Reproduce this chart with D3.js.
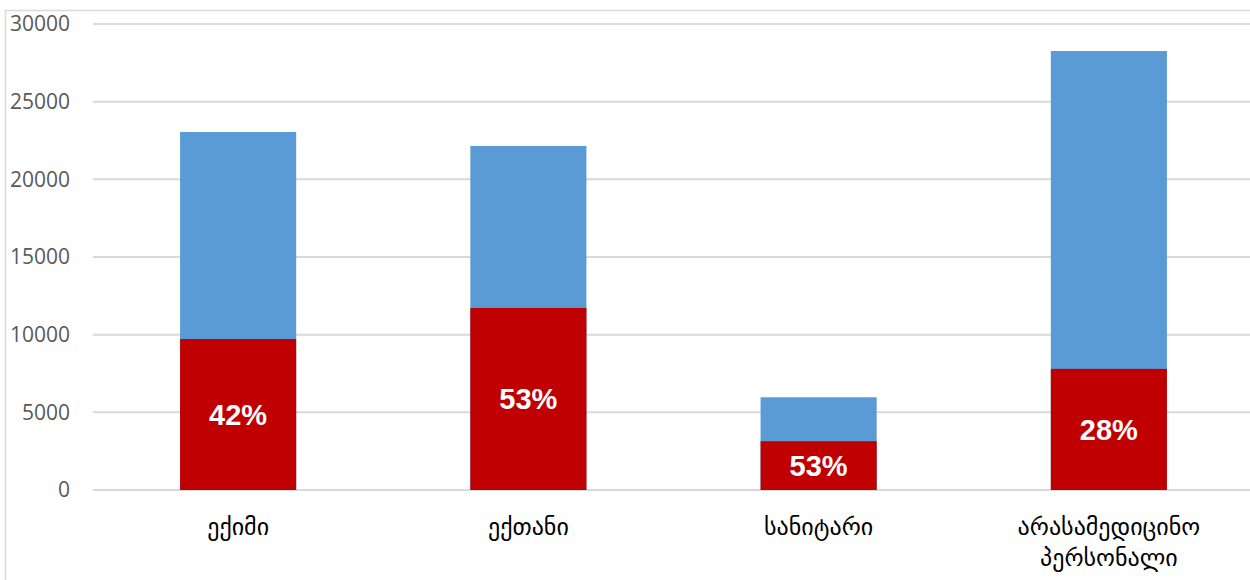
<!DOCTYPE html>
<html>
<head>
<meta charset="utf-8">
<script src="https://cdn.jsdelivr.net/npm/d3@7"></script>
<style>
  body { margin: 0; background: #fff; }
</style>
</head>
<body>
<script>
// chart data
var categories = ["ექიმი", "ექთანი", "სანიტარი", "არასამედიცინო პერსონალი"];
var totals = [23050, 22150, 5970, 28260];
var redValues = [9720, 11720, 3140, 7800];
var percentLabels = ["42%", "53%", "53%", "28%"];
var yTicks = [0, 5000, 10000, 15000, 20000, 25000, 30000];

function init() {
    var w = 1250;
    var h = 580;

    var svg = d3.select("body")
                .append("svg")
                .attr("width", w)
                .attr("height", h);

    // outer frame (only left and top show inside the picture)
    svg.append("rect")
        .attr("x", 5.5)
        .attr("y", 10.5)
        .attr("width", w + 20)
        .attr("height", h + 20)
        .attr("fill", "none")
        .attr("stroke", "#d9d9d9")
        .attr("stroke-width", 1.5);

    var xScale = d3.scaleBand()
                    .domain(categories)
                    .range([93, 1254])
                    .paddingInner(0.6)
                    .paddingOuter(0.3);

    var yScale = d3.scaleLinear()
                    .domain([0, 30000])
                    .range([490, 24]);

    // gridlines
    svg.append("g")
        .selectAll("line")
        .data(yTicks)
        .enter()
        .append("line")
        .attr("x1", 93)
        .attr("x2", w)
        .attr("y1", d => yScale(d))
        .attr("y2", d => yScale(d))
        .attr("stroke", "#d9d9d9")
        .attr("stroke-width", 2);

    // y axis labels
    var yAxis = d3.axisLeft(yScale)
                  .tickValues(yTicks)
                  .tickFormat(d3.format("d"))
                  .tickSize(0)
                  .tickPadding(0);
    var gy = svg.append("g")
        .attr("transform", "translate(70,0)")
        .call(yAxis);
    gy.select(".domain").remove();
    gy.selectAll("text")
        .attr("font-family", "Open Sans, sans-serif")
        .attr("font-size", 21)
        .attr("fill", "#595959");

    // blue (total) bars
    svg.selectAll("rect.total")
        .data(totals)
        .enter()
        .append("rect")
        .attr("class", "total")
        .attr("x", (d, i) => xScale(categories[i]))
        .attr("y", d => yScale(d))
        .attr("width", xScale.bandwidth())
        .attr("height", d => yScale(0) - yScale(d))
        .attr("fill", "#5b9bd5");

    // red bars
    svg.selectAll("rect.part")
        .data(redValues)
        .enter()
        .append("rect")
        .attr("class", "part")
        .attr("x", (d, i) => xScale(categories[i]))
        .attr("y", d => yScale(d))
        .attr("width", xScale.bandwidth())
        .attr("height", d => yScale(0) - yScale(d))
        .attr("fill", "#c00000");

    // percent labels
    svg.selectAll("text.pct")
        .data(redValues)
        .enter()
        .append("text")
        .attr("class", "pct")
        .attr("x", (d, i) => xScale(categories[i]) + xScale.bandwidth() / 2)
        .attr("y", d => (yScale(d) + yScale(0)) / 2)
        .attr("dy", "0.36em")
        .attr("text-anchor", "middle")
        .attr("font-family", "Liberation Sans, Arial, sans-serif")
        .attr("font-weight", "bold")
        .attr("font-size", 29)
        .attr("fill", "#ffffff")
        .text((d, i) => percentLabels[i]);

    // category labels, wrapped on spaces
    categories.forEach(function(c) {
        var words = c.split(" ");
        var t = svg.append("text")
            .attr("x", xScale(c) + xScale.bandwidth() / 2)
            .attr("y", 535)
            .attr("text-anchor", "middle")
            .attr("font-family", "DejaVu Sans, sans-serif")
            .attr("font-size", 24)
            .attr("fill", "#000");
        words.forEach(function(wd, j) {
            t.append("tspan")
             .attr("x", xScale(c) + xScale.bandwidth() / 2)
             .attr("dy", j === 0 ? 0 : 31)
             .text(wd);
        });
    });
}
window.onload = init;
</script>
</body>
</html>
